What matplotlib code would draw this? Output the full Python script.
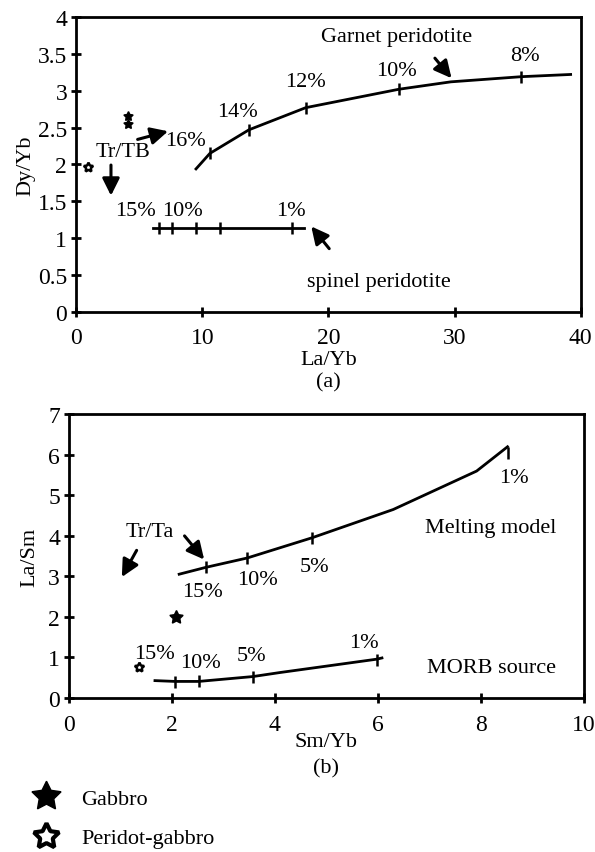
import matplotlib.pyplot as plt
from matplotlib.lines import Line2D

plt.rcParams['font.family'] = ['Liberation Serif', 'DejaVu Serif']

# (a) Dy/Yb vs La/Yb
garnet_x = [9.5, 10.6, 13.7, 18.2, 25.6, 29.7, 35.3, 39.2]
garnet_y = [1.94, 2.15, 2.47, 2.77, 3.02, 3.12, 3.19, 3.22]
garnet_tick_x = [10.6, 13.7, 18.2, 25.6, 35.3]
garnet_tick_y = [2.15, 2.47, 2.77, 3.02, 3.19]
garnet_labels = ["16%", "14%", "12%", "10%", "8%"]
garnet_label_xy = [(8.7, 2.33), (12.8, 2.72), (18.2, 3.12), (25.4, 3.28), (35.6, 3.48)]

spinel_x = [6.1, 18.1]
spinel_y = [1.14, 1.14]
spinel_tick_x = [6.6, 7.6, 9.5, 11.4, 17.1]
spinel_labels = ["15%", "10%", "1%"]
spinel_label_xy = [(4.7, 1.37), (8.4, 1.37), (17.0, 1.37)]

gabbro_a_x = [4.1, 4.1]
gabbro_a_y = [2.55, 2.66]
perigab_a_x = [0.95]
perigab_a_y = [1.97]

# (b) La/Sm vs Sm/Yb
melt_x = [2.14, 2.66, 3.46, 4.72, 6.3, 7.92, 8.52]
melt_y = [3.05, 3.22, 3.45, 3.95, 4.65, 5.6, 6.2]
melt_tick_x = [2.66, 3.46, 4.72, 8.52]
melt_tick_y = [3.22, 3.45, 3.95, 6.05]
melt_labels = ["15%", "10%", "5%", "1%"]
melt_label_xy = [(2.6, 2.63), (3.67, 2.93), (4.76, 3.23), (8.64, 5.43)]

morb_x = [1.67, 2.06, 2.52, 3.57, 4.1, 5.98, 6.08]
morb_y = [0.42, 0.4, 0.4, 0.52, 0.62, 0.95, 0.98]
morb_tick_x = [2.06, 2.52, 3.57, 5.98]
morb_tick_y = [0.38, 0.4, 0.52, 0.92]
morb_labels = ["15%", "10%", "5%", "1%"]
morb_label_xy = [(1.67, 1.08), (2.55, 0.88), (3.55, 1.05), (5.73, 1.35)]

gabbro_b_x = [2.07]
gabbro_b_y = [2.0]
perigab_b_x = [1.35]
perigab_b_y = [0.75]

STAR = (5, 1, 0)
FS = 16      # annotation / axis-label size
TFS = 17     # tick label size
arrow_kw = dict(arrowstyle='-|>', lw=2.2, color='black', mutation_scale=26)


def style_axes(ax, xpad):
    for s in ax.spines.values():
        s.set_linewidth(2)
    ax.tick_params(direction='inout', length=7, width=2, labelsize=TFS)
    ax.tick_params(axis='y', pad=3)
    ax.tick_params(axis='x', pad=xpad)


fig = plt.figure(figsize=(5.95, 8.53), dpi=100)

# ---- panel (a) ----
ax1 = fig.add_axes([0.128, 0.633, 0.848, 0.346])
ax1.plot(garnet_x, garnet_y, color='black', lw=2)
ax1.plot(garnet_tick_x, garnet_tick_y, ls='none', marker='|', ms=9, mew=1.8, color='black')
for lab, (x, y) in zip(garnet_labels, garnet_label_xy):
    ax1.text(x, y, lab, ha='center', va='center', fontsize=FS)
ax1.text(25.4, 3.74, "Garnet peridotite", ha='center', va='center', fontsize=FS)
ax1.annotate("", xy=(29.9, 3.14), xytext=(28.3, 3.47), arrowprops=arrow_kw)

ax1.plot(spinel_x, spinel_y, color='black', lw=2)
ax1.plot(spinel_tick_x, [spinel_y[0]] * len(spinel_tick_x), ls='none', marker='|',
         ms=9, mew=1.8, color='black')
for lab, (x, y) in zip(spinel_labels, spinel_label_xy):
    ax1.text(x, y, lab, ha='center', va='center', fontsize=FS)
ax1.text(24.0, 0.41, "spinel peridotite", ha='center', va='center', fontsize=FS)
ax1.annotate("", xy=(18.5, 1.19), xytext=(20.2, 0.83), arrowprops=arrow_kw)

ax1.text(3.7, 2.18, "Tr/TB", ha='center', va='center', fontsize=FS)
ax1.annotate("", xy=(2.76, 1.54), xytext=(2.76, 2.03), arrowprops=arrow_kw)
ax1.annotate("", xy=(7.5, 2.46), xytext=(4.66, 2.33), arrowprops=arrow_kw)

ax1.plot(gabbro_a_x, gabbro_a_y, ls='none', marker=STAR, ms=7, color='black')
ax1.plot(perigab_a_x, perigab_a_y, ls='none', marker=STAR, ms=7, mfc='white',
         mec='black', mew=1.8)

ax1.set_xlim(0, 40)
ax1.set_ylim(0, 4)
ax1.set_xticks([0, 10, 20, 30, 40])
ax1.set_yticks([0, 0.5, 1, 1.5, 2, 2.5, 3, 3.5, 4])
ax1.set_yticklabels(["0", "0.5", "1", "1.5", "2", "2.5", "3", "3.5", "4"])
ax1.set_ylabel("Dy/Yb", fontsize=FS, labelpad=2)
ax1.set_xlabel("La/Yb\n(a)", fontsize=FS, labelpad=2, linespacing=1.2)
style_axes(ax1, xpad=7)

# ---- panel (b) ----
ax2 = fig.add_axes([0.116, 0.181, 0.865, 0.332])
ax2.plot(melt_x, melt_y, color='black', lw=2)
ax2.plot(melt_tick_x, melt_tick_y, ls='none', marker='|', ms=9, mew=1.8, color='black')
for lab, (x, y) in zip(melt_labels, melt_label_xy):
    ax2.text(x, y, lab, ha='center', va='center', fontsize=FS)
ax2.text(8.2, 4.2, "Melting model", ha='center', va='center', fontsize=FS)
ax2.text(1.57, 4.1, "Tr/Ta", ha='center', va='center', fontsize=FS)
ax2.annotate("", xy=(2.66, 3.36), xytext=(2.21, 4.05), arrowprops=arrow_kw)
ax2.annotate("", xy=(1.0, 2.92), xytext=(1.34, 3.7), arrowprops=arrow_kw)

ax2.plot(morb_x, morb_y, color='black', lw=2)
ax2.plot(morb_tick_x, morb_tick_y, ls='none', marker='|', ms=9, mew=1.8, color='black')
for lab, (x, y) in zip(morb_labels, morb_label_xy):
    ax2.text(x, y, lab, ha='center', va='center', fontsize=FS)
ax2.text(8.2, 0.75, "MORB source", ha='center', va='center', fontsize=FS)

ax2.plot(gabbro_b_x, gabbro_b_y, ls='none', marker=STAR, ms=10, color='black')
ax2.plot(perigab_b_x, perigab_b_y, ls='none', marker=STAR, ms=7, mfc='white',
         mec='black', mew=1.8)

ax2.set_xlim(0, 10)
ax2.set_ylim(0, 7)
ax2.set_xticks([0, 2, 4, 6, 8, 10])
ax2.set_yticks(range(0, 8))
ax2.set_ylabel("La/Sm", fontsize=FS, labelpad=6)
ax2.set_xlabel("Sm/Yb\n(b)", fontsize=FS, labelpad=-2, linespacing=1.5)
style_axes(ax2, xpad=8)

# legend below the panels
handles = [
    Line2D([], [], ls='none', marker=STAR, ms=22, color='black'),
    Line2D([], [], ls='none', marker=STAR, ms=19, mfc='white', mec='black', mew=3),
]
fig.legend(handles, ["Gabbro", "Peridot-gabbro"], loc='upper left',
           bbox_to_anchor=(0.015, 0.098), frameon=False, fontsize=FS,
           handletextpad=0.85, labelspacing=0.85, handlelength=1.5)

fig.savefig("out.png", dpi=100)
